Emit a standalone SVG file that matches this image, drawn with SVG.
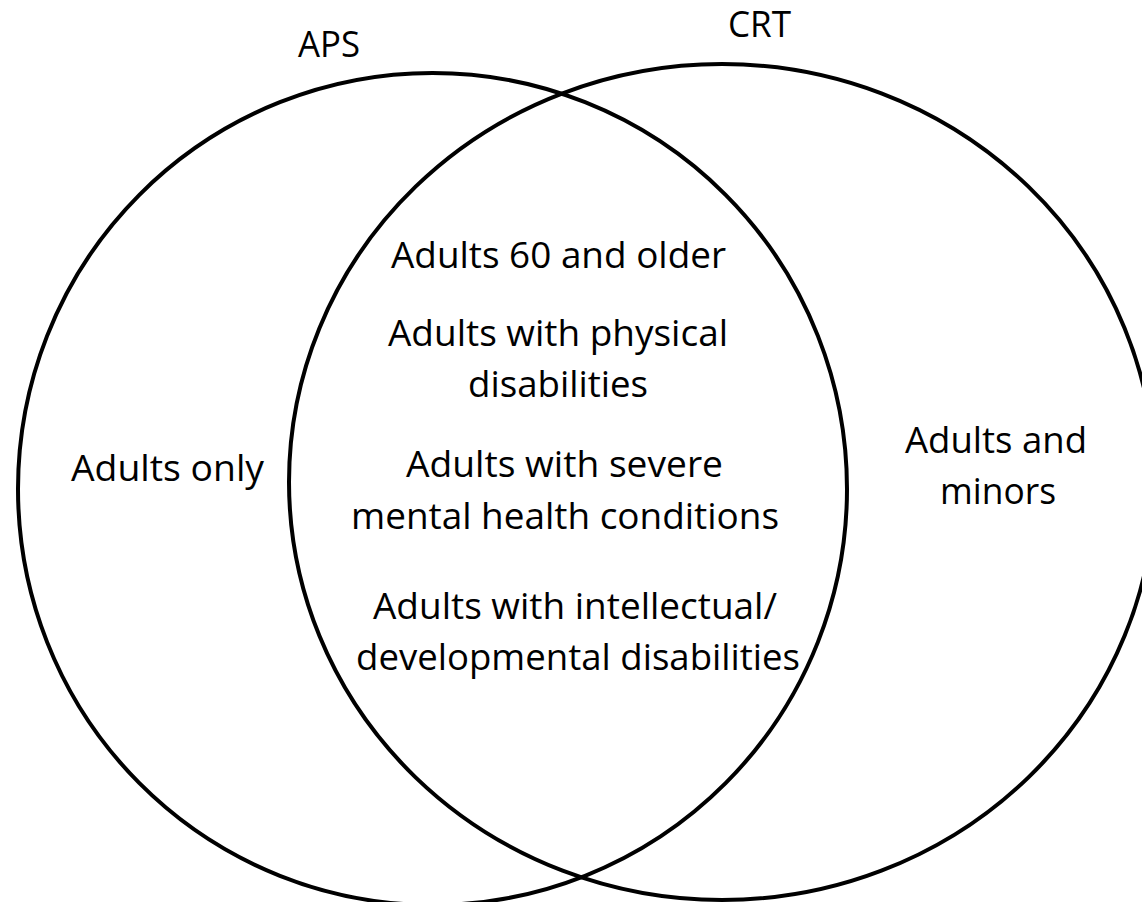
<svg xmlns="http://www.w3.org/2000/svg" width="1142" height="902" viewBox="0 0 1142 902">
<style>
.c{fill:none;stroke:#000;stroke-width:4}
.t{font-family:"Open Sans","Noto Sans","Liberation Sans",sans-serif;font-size:36px;fill:#000}
</style>
<rect width="1142" height="902" fill="#fff"/>
<g id="connectors"></g>
<g id="aps">
<ellipse class="c" cx="432.5" cy="489" rx="414.5" ry="416"/>
<text class="t" x="298" y="57" textLength="62" lengthAdjust="spacingAndGlyphs">APS</text>
<text class="t" x="71" y="481" textLength="193" lengthAdjust="spacingAndGlyphs">Adults only</text>
</g>
<g id="crt">
<ellipse class="c" cx="722" cy="482" rx="433" ry="418"/>
<text class="t" x="728" y="37" textLength="63" lengthAdjust="spacingAndGlyphs">CRT</text>
<text class="t" x="905" y="453" textLength="182" lengthAdjust="spacingAndGlyphs">Adults and</text>
<text class="t" x="940" y="504" textLength="116" lengthAdjust="spacingAndGlyphs">minors</text>
</g>
<g id="overlap">
<text class="t" x="391" y="268" textLength="335" lengthAdjust="spacingAndGlyphs">Adults 60 and older</text>
<text class="t" x="388" y="346" textLength="340" lengthAdjust="spacingAndGlyphs">Adults with physical</text>
<text class="t" x="468" y="397" textLength="180" lengthAdjust="spacingAndGlyphs">disabilities</text>
<text class="t" x="406" y="477" textLength="317" lengthAdjust="spacingAndGlyphs">Adults with severe</text>
<text class="t" x="351" y="529" textLength="428" lengthAdjust="spacingAndGlyphs">mental health conditions</text>
<text class="t" x="373" y="619" textLength="404" lengthAdjust="spacingAndGlyphs">Adults with intellectual/</text>
<text class="t" x="356" y="670" textLength="444" lengthAdjust="spacingAndGlyphs">developmental disabilities</text>
</g>
</svg>
